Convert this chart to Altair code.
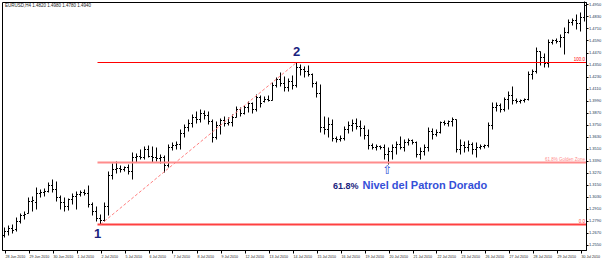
import json
import altair as alt
import pandas as pd

# ---------------- data ----------------
open_ = [1.264,1.268,1.271,1.270,1.278,1.284,1.286,1.298,1.297,1.306,
1.307,1.308,1.314,1.310,1.302,1.297,1.293,1.300,1.303,1.305,
1.307,1.306,1.295,1.288,1.281,1.279,1.293,1.324,1.330,1.331,
1.330,1.332,1.328,1.342,1.343,1.342,1.350,1.343,1.342,1.341,
1.342,1.334,1.352,1.354,1.355,1.366,1.372,1.376,1.382,1.380,
1.386,1.384,1.378,1.362,1.374,1.379,1.376,1.377,1.382,1.390,
1.386,1.392,1.396,1.390,1.402,1.398,1.400,1.399,1.414,1.420,
1.416,1.412,1.418,1.414,1.432,1.430,1.428,1.425,1.416,1.406,
1.372,1.370,1.375,1.361,1.360,1.361,1.370,1.374,1.376,1.373,
1.371,1.364,1.354,1.352,1.353,1.352,1.345,1.348,1.352,1.355,
1.352,1.357,1.359,1.357,1.345,1.348,1.352,1.368,1.365,1.367,
1.377,1.376,1.378,1.380,1.350,1.354,1.352,1.355,1.350,1.352,
1.353,1.354,1.374,1.392,1.394,1.390,1.400,1.404,1.399,1.398,
1.399,1.400,1.425,1.428,1.448,1.442,1.436,1.457,1.459,1.458,
1.462,1.467,1.477,1.479,1.476,1.482]

high = [1.272,1.274,1.275,1.282,1.286,1.288,1.302,1.303,1.312,1.310,
1.311,1.317,1.320,1.318,1.304,1.302,1.301,1.306,1.308,1.309,
1.310,1.314,1.297,1.293,1.285,1.297,1.328,1.336,1.338,1.334,
1.333,1.335,1.347,1.346,1.350,1.353,1.354,1.353,1.352,1.345,
1.344,1.355,1.357,1.358,1.370,1.375,1.380,1.385,1.388,1.390,
1.389,1.388,1.380,1.378,1.381,1.383,1.382,1.385,1.393,1.392,
1.394,1.398,1.397,1.405,1.404,1.403,1.404,1.417,1.422,1.427,
1.423,1.421,1.424,1.437,1.435,1.433,1.434,1.426,1.418,1.415,
1.383,1.382,1.380,1.363,1.364,1.373,1.378,1.380,1.381,1.379,
1.374,1.370,1.356,1.355,1.354,1.355,1.352,1.355,1.358,1.363,
1.360,1.361,1.360,1.358,1.352,1.355,1.372,1.371,1.370,1.378,
1.379,1.379,1.382,1.380,1.360,1.358,1.359,1.357,1.357,1.355,
1.355,1.377,1.397,1.397,1.396,1.402,1.408,1.413,1.401,1.400,
1.401,1.428,1.430,1.452,1.448,1.446,1.460,1.460,1.461,1.465,
1.472,1.480,1.481,1.485,1.487,1.498]

low = [1.262,1.264,1.266,1.268,1.276,1.280,1.286,1.288,1.290,1.302,
1.303,1.307,1.307,1.298,1.290,1.288,1.289,1.295,1.290,1.303,
1.304,1.292,1.284,1.278,1.275,1.278,1.284,1.320,1.326,1.327,
1.328,1.325,1.320,1.337,1.340,1.340,1.342,1.337,1.338,1.336,
1.327,1.332,1.349,1.350,1.350,1.362,1.368,1.372,1.376,1.377,
1.380,1.375,1.357,1.360,1.365,1.373,1.374,1.373,1.382,1.383,
1.385,1.387,1.386,1.388,1.392,1.397,1.398,1.399,1.412,1.413,
1.408,1.408,1.410,1.412,1.424,1.422,1.423,1.412,1.402,1.367,
1.365,1.362,1.358,1.357,1.358,1.359,1.366,1.368,1.370,1.363,
1.360,1.350,1.350,1.349,1.350,1.340,1.335,1.340,1.345,1.350,
1.348,1.354,1.355,1.342,1.340,1.344,1.348,1.360,1.363,1.366,
1.374,1.373,1.373,1.347,1.345,1.347,1.348,1.345,1.342,1.350,
1.351,1.352,1.370,1.388,1.387,1.388,1.390,1.395,1.396,1.396,
1.397,1.399,1.420,1.426,1.434,1.432,1.432,1.455,1.456,1.452,
1.445,1.466,1.474,1.470,1.468,1.478]

close = [1.268,1.271,1.269,1.278,1.284,1.285,1.298,1.299,1.306,1.307,
1.308,1.314,1.310,1.302,1.297,1.293,1.300,1.303,1.305,1.307,
1.306,1.295,1.288,1.281,1.279,1.293,1.324,1.330,1.331,1.330,
1.332,1.328,1.342,1.343,1.342,1.350,1.343,1.342,1.341,1.342,
1.334,1.352,1.354,1.355,1.366,1.372,1.376,1.382,1.380,1.386,
1.384,1.378,1.362,1.374,1.379,1.376,1.377,1.382,1.390,1.386,
1.392,1.396,1.390,1.402,1.396,1.400,1.399,1.414,1.420,1.416,
1.412,1.418,1.414,1.432,1.430,1.428,1.425,1.416,1.406,1.372,
1.370,1.375,1.361,1.360,1.361,1.370,1.374,1.376,1.373,1.371,
1.364,1.354,1.352,1.353,1.352,1.345,1.348,1.352,1.355,1.352,
1.357,1.359,1.357,1.345,1.348,1.352,1.368,1.365,1.367,1.377,
1.376,1.378,1.380,1.350,1.354,1.352,1.355,1.350,1.352,1.353,
1.354,1.374,1.392,1.394,1.390,1.400,1.404,1.399,1.398,1.399,
1.400,1.425,1.428,1.448,1.442,1.436,1.457,1.459,1.458,1.462,
1.467,1.477,1.479,1.476,1.482,1.494]

date_labels = ["28 Jun 2010", "29 Jun 2010", "30 Jun 2010", "1 Jul 2010", "2 Jul 2010",
               "5 Jul 2010", "6 Jul 2010", "7 Jul 2010", "8 Jul 2010", "9 Jul 2010",
               "12 Jul 2010", "13 Jul 2010", "14 Jul 2010", "15 Jul 2010", "16 Jul 2010",
               "19 Jul 2010", "20 Jul 2010", "21 Jul 2010", "22 Jul 2010", "23 Jul 2010",
               "26 Jul 2010", "27 Jul 2010", "28 Jul 2010", "29 Jul 2010", "30 Jul 2010"]
date_label_bars = [0, 6, 12, 18, 24, 30, 36, 42, 48, 54, 60, 66, 72, 78, 84, 90,
                   96, 102, 108, 114, 120, 126, 132, 138, 144]
price_ticks = [1.495, 1.483, 1.471, 1.459, 1.447, 1.435, 1.423, 1.411, 1.399, 1.387,
               1.375, 1.363, 1.351, 1.339, 1.327, 1.315, 1.303, 1.291, 1.279, 1.267, 1.255]

symbol_title = "EURUSD,H4  1.4820 1.4980 1.4780 1.4940"

# Fibonacci swing: point 1 (low) and point 2 (high)
swing_bars = [24, 73]
swing_prices = [1.275, 1.437]
fib_ratios = [1.0, 0.618, 0.0]          # retracement measured from point 2
fib_texts = ["0.0", "61.8% Golden Zone", "100.0"]
fib_colors = ["#ff4040", "#ff8c8c", "#ff0000"]
fib_widths = [2, 2, 1.2]
point_labels = ["1", "2"]

note_bar = 96
note_price = 1.335

# ---------------- build ----------------
n = len(open_)
assert n == len(high) == len(low) == len(close)
bars = pd.DataFrame({"i": list(range(n)), "open": open_, "high": high, "low": low, "close": close})

xs = alt.Scale(domain=[-0.625, n - 0.625], nice=False, zero=False)
ys = alt.Scale(domain=[1.2495, 1.4975], nice=False, zero=False)

labels_js = "[" + ",".join("'%s'" % s for s in date_labels) + "]"
label_expr = "%s[indexof(%s, datum.value)]" % (labels_js, json.dumps(date_label_bars))

x_axis = alt.Axis(values=date_label_bars, labelExpr=label_expr, title=None, grid=False,
                  orient="bottom", labelAlign="left", labelBaseline="top", labelFontSize=3.6,
                  labelFont="Liberation Sans", labelColor="#222222", labelPadding=1.5,
                  labelOverlap=False, labelFlush=False, tickSize=3, tickColor="#000000",
                  domainColor="#000000", labelOffset=0.5)
y_axis = alt.Axis(orient="right", values=price_ticks, format=".4f", title=None, grid=False,
                  labelFontSize=4, labelFont="Liberation Sans", labelColor="#223355",
                  labelPadding=0.5, tickSize=2, tickColor="#000000", domainColor="#000000",
                  labelOverlap=False, labelFlush=False)


def X(field):
    return alt.X(field, type="quantitative", scale=xs, axis=x_axis)


def Y(field):
    return alt.Y(field, type="quantitative", scale=ys, axis=y_axis)


base = alt.Chart(bars)

hl = base.mark_rule(color="#000000", strokeWidth=1).encode(
    x=X("i"), y=Y("low"), y2="high:Q",
)
op = base.transform_calculate(xl="datum.i - 0.375").mark_rule(color="#000000", strokeWidth=1).encode(
    x=X("xl"), x2="i:Q", y=Y("open"),
)
cl = base.transform_calculate(xr="datum.i + 0.375").mark_rule(color="#000000", strokeWidth=1).encode(
    x=X("i"), x2="xr:Q", y=Y("close"),
)

lo, hi = swing_prices
fib = pd.DataFrame({
    "price": [hi - (hi - lo) * r for r in fib_ratios],
    "txt": fib_texts,
    "col": fib_colors,
    "w": fib_widths,
    "start": [swing_bars[0] - 0.75] * 3,
})

fib_lines = alt.Chart(fib).mark_rule().encode(
    x=X("start"),
    x2=alt.value(584),
    y=Y("price"),
    color=alt.Color("col:N", scale=None),
    strokeWidth=alt.StrokeWidth("w:Q", scale=None),
)
fib_txt = alt.Chart(fib).mark_text(align="right", baseline="bottom", fontSize=4.5,
                                   font="Liberation Sans", dy=-1).encode(
    x=alt.value(583),
    y=Y("price"),
    text="txt:N",
    color=alt.Color("col:N", scale=None),
)

swing = pd.DataFrame({"i1": [swing_bars[0]], "p1": [lo], "i2": [swing_bars[1]], "p2": [hi]})
diag = alt.Chart(swing).mark_rule(color="#ff8080", strokeWidth=1, strokeDash=[3, 2]).encode(
    x=X("i1"), x2="i2:Q", y=Y("p1"), y2="p2:Q",
)

pts = pd.DataFrame({"i": swing_bars, "p": swing_prices, "t": point_labels})
pt1 = alt.Chart(pts.iloc[[0]]).mark_text(fontSize=13, fontWeight="bold", font="Liberation Sans",
                                         color="#1a237e", dx=-3, dy=9).encode(
    x=X("i"), y=Y("p"), text="t:N")
pt2 = alt.Chart(pts.iloc[[1]]).mark_text(fontSize=13, fontWeight="bold", font="Liberation Sans",
                                         color="#1a237e", dx=0, dy=-11).encode(
    x=X("i"), y=Y("p"), text="t:N")

note = pd.DataFrame({"i": [note_bar], "p": [note_price], "arrow": ["\u21e7"],
                     "pct": ["61.8%"], "msg": ["Nivel del Patron Dorado"]})
arrow = alt.Chart(note).mark_text(fontSize=12, font="DejaVu Sans", color="#2b4ad4",
                                  baseline="top", dy=0, dx=-1).encode(
    x=X("i"), y=Y("p"), text="arrow:N")
pct = alt.Chart(note).mark_text(fontSize=9, fontWeight="bold", font="Liberation Sans",
                                color="#1a237e", align="right", baseline="middle", dx=-30, dy=21).encode(
    x=X("i"), y=Y("p"), text="pct:N")
msg = alt.Chart(note).mark_text(fontSize=11, fontWeight="bold", font="Liberation Sans",
                                color="#3550d8", align="left", baseline="middle", dx=-26, dy=21).encode(
    x=X("i"), y=Y("p"), text="msg:N")

title_df = pd.DataFrame({"t": [symbol_title]})
title = alt.Chart(title_df).mark_text(fontSize=4.5, font="Liberation Sans", color="#222222",
                                      align="left", baseline="middle").encode(
    x=alt.value(3), y=alt.value(4), text="t:N")

chart = alt.layer(hl, op, cl, fib_lines, diag, fib_txt, pt1, pt2, arrow, pct, msg, title).properties(
    width=584, height=248,
    autosize=alt.AutoSizeParams(type="none"),
    padding={"left": 2, "top": 2, "right": 16, "bottom": 15},
    background="#ffffff",
).configure_view(stroke="#000000", strokeWidth=1)

chart.save("out.html", embed_options={"renderer": "svg", "actions": False})
